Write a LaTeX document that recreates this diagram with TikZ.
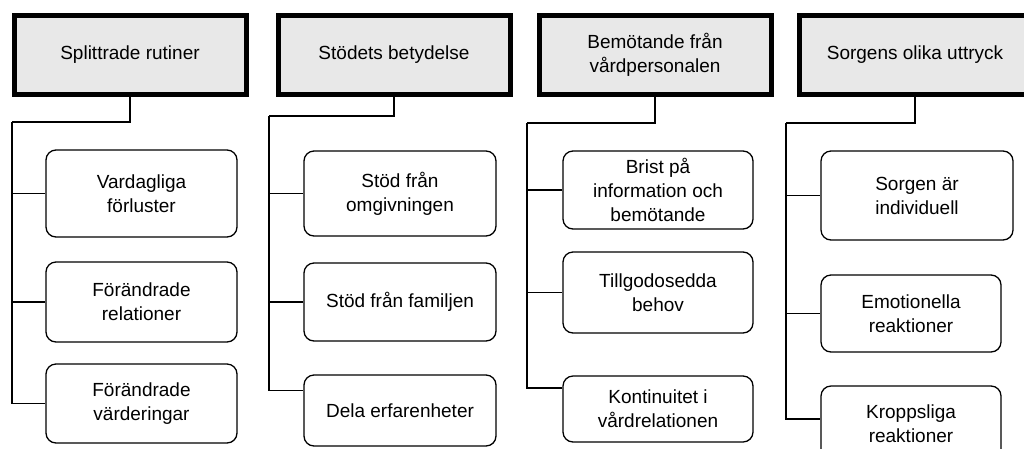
\documentclass[tikz,border=0pt]{standalone}
\usepackage{fontspec}
\setmainfont{Liberation Sans}

\tikzset{
    head/.style={draw, line width=5pt, fill=black!9, minimum width=232pt,
        minimum height=79pt, inner sep=0pt, align=center,
        font=\fontsize{19}{24}\selectfont},
    sub/.style={draw, line width=1.3pt, rounded corners=10pt, inner sep=0pt,
        align=center, font=\fontsize{19}{24}\selectfont},
    link/.style={line width=1.3pt}
}

\begin{document}
\begin{tikzpicture}[x=1pt,y=-1pt]
    \clip (0,0) rectangle (1024,448);

    % the four themes
    \foreach \n/\x/\t in {1/130/Splittrade rutiner, 2/394/Stödets betydelse,
        3/655/{Bemötande från\\vårdpersonalen}, 4/915/Sorgens olika uttryck} {
        \node[head] (h\n) at (\x,55) {\t};
    }

    % sub themes
    \node[sub, minimum width=191pt, minimum height=87pt] (a1) at (141.5,193.5) {Vardagliga\\förluster};
    \node[sub, minimum width=191pt, minimum height=80pt] (a2) at (141.5,302) {Förändrade\\relationer};
    \node[sub, minimum width=191pt, minimum height=79pt] (a3) at (141.5,403.5) {Förändrade\\värderingar};

    \node[sub, minimum width=192pt, minimum height=85pt] (b1) at (400,193.5) {Stöd från\\omgivningen};
    \node[sub, minimum width=192pt, minimum height=78pt] (b2) at (400,302) {Stöd från familjen};
    \node[sub, minimum width=192pt, minimum height=71pt] (b3) at (400,410.5) {Dela erfarenheter};

    \node[sub, minimum width=190pt, minimum height=78pt] (c1) at (658,190) {Brist på\\information och\\bemötande};
    \node[sub, minimum width=190pt, minimum height=81pt] (c2) at (658,292.5) {Tillgodosedda\\behov};
    \node[sub, minimum width=190pt, minimum height=66pt] (c3) at (658,409) {Kontinuitet i\\vårdrelationen};

    \node[sub, minimum width=192pt, minimum height=89pt] (d1) at (917,195.5) {Sorgen är\\individuell};
    \node[sub, minimum width=180pt, minimum height=77pt] (d2) at (911,313.5) {Emotionella\\reaktioner};
    \node[sub, minimum width=180pt, minimum height=76pt] (d3) at (911,424) {Kroppsliga\\reaktioner};

    % connectors
    \coordinate (j1) at (12,122);
    \coordinate (j2) at (269,116);
    \coordinate (j3) at (527,123);
    \coordinate (j4) at (786,123);
    \foreach \h/\s in {1/a, 2/b, 3/c, 4/d} {
        \draw[link] (h\h.south) |- (j\h);
        \draw[link] (j\h) |- (\s1.west);
        \draw[link] (j\h) |- (\s2.west);
    }
    \draw[link] (j1) |- (a3.west);
    \draw[link] (j2) |- ([yshift=20pt]b3.west);
    \draw[link] (j3) |- ([yshift=21pt]c3.west);
    \draw[link] (j4) |- ([yshift=5pt]d3.west);
\end{tikzpicture}
\end{document}
